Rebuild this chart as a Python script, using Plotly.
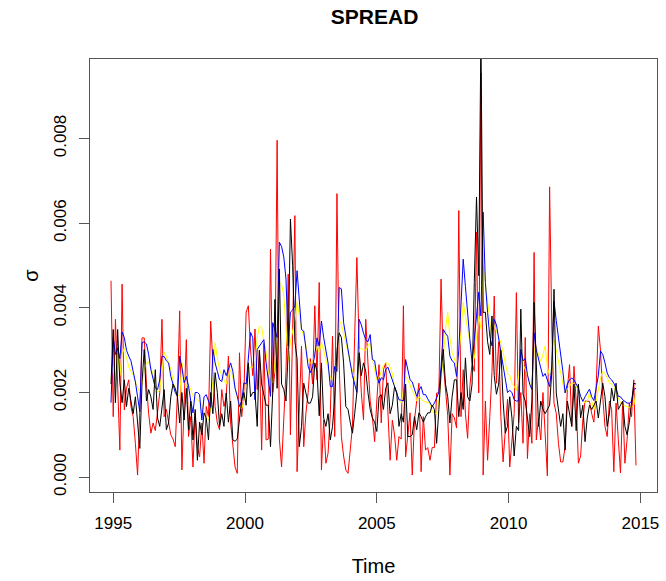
import plotly.graph_objects as go

# ---- data (units of 0.001), monthly-ish samples Dec 1994 .. late 2014 ----
red = [4.64, 1.43, 3.73, 2.0, 0.64, 4.56, 1.59, 2.1, 2.3, 1.67,
       1.43, 0.8, 0.05, 1.6, 3.29, 3.29, 2.2, 1.5, 1.04, 1.28,
       1.1, 1.52, 2.0, 3.73, 1.43, 1.6, 1.28, 1.0, 0.9, 0.72,
       2.0, 3.93, 0.17, 1.6, 3.25, 0.96, 1.43, 0.24, 1.52, 0.72,
       0.48, 1.28, 0.33, 1.67, 1.43, 3.69, 2.7, 1.67, 1.28, 1.12,
       2.07, 1.67, 1.9, 2.86, 1.28, 0.72, 0.24, 0.09, 2.94, 1.43,
       2.0, 3.9, 4.05, 3.0, 2.4, 3.5, 2.07, 3.0, 0.64, 3.18,
       0.88, 0.9, 5.39, 2.0, 2.5, 7.96, 0.9, 0.24, 1.35, 2.5,
       4.8, 1.0, 3.5, 6.18, 0.13, 1.5, 3.1, 0.72, 1.52, 2.0,
       2.8, 2.2, 4.05, 2.3, 4.6, 0.17, 1.35, 0.33, 0.57, 1.5,
       3.33, 0.96, 6.7, 2.7, 0.96, 0.5, 0.17, 0.09, 0.6, 1.2,
       3.33, 5.19, 3.1, 2.0, 1.35, 3.73, 2.7, 1.8, 1.43, 0.84,
       1.8, 2.66, 1.28, 2.54, 2.7, 1.6, 0.4, 1.35, 1.0, 0.4,
       0.96, 0.9, 4.05, 0.48, 1.0, 1.52, 0.05, 1.35, 1.8, 2.22,
       0.13, 1.43, 0.64, 0.7, 0.4, 0.7, 0.7, 1.99, 1.99, 4.68,
       2.7, 2.0, 1.45, 0.05, 1.5, 1.4, 1.16, 6.3, 1.43, 2.54,
       1.5, 0.92, 2.14, 2.7, 2.5, 5.79, 1.99, 9.55, 0.05, 1.8,
       0.4, 1.43, 2.5, 4.28, 2.22, 3.2, 1.43, 0.36, 1.0, 1.84,
       0.24, 0.8, 1.5, 4.36, 1.28, 2.0, 0.8, 3.3, 0.44, 1.5,
       0.8, 5.31, 0.88, 1.4, 0.88, 2.0, 1.0, 0.03, 6.86, 3.5,
       1.75, 1.51, 0.8, 0.36, 0.36, 0.72, 2.07, 2.66, 1.2, 2.62,
       1.8, 0.33, 0.5, 1.35, 1.8, 1.8, 1.79, 1.5, 1.3, 2.1,
       3.57, 2.98, 1.9, 1.2, 0.96, 1.8, 1.6, 0.13, 1.75, 0.9,
       0.1, 1.8, 0.33, 0.9, 1.75, 1.43, 2.3, 0.28]

black = [2.2, 3.49, 1.76, 3.49, 2.23, 1.76, 2.3, 1.67, 2.1, 1.8,
         1.5, 1.9, 1.35, 0.68, 2.23, 3.02, 1.8, 2.07, 1.9, 1.6,
         2.54, 1.4, 1.2, 1.6, 2.07, 1.12, 1.28, 1.9, 2.2, 2.1,
         1.9, 1.28, 2.0, 1.35, 2.1, 1.12, 1.8, 0.88, 1.6, 0.4,
         1.3, 1.0, 1.52, 1.4, 0.88, 2.0, 1.5, 2.47, 2.0, 1.2,
         1.5, 1.2, 1.99, 1.3, 1.8, 0.88, 0.85, 0.9, 1.43, 1.83,
         2.0, 1.7, 2.7, 1.9, 2.0, 2.0, 1.2, 3.0, 2.2, 1.9,
         1.7, 1.7, 0.72, 2.0, 4.2, 2.1, 4.92, 2.2, 2.07, 1.8,
         3.0, 6.1, 5.0, 3.2, 2.8, 0.72, 1.2, 2.22, 2.0, 1.75,
         1.75, 1.9, 2.7, 2.5, 1.45, 2.7, 1.4, 1.2, 1.5, 0.88,
         1.2, 1.9, 3.0, 3.41, 3.3, 2.7, 1.67, 1.6, 1.3, 1.04,
         1.5, 2.0, 2.94, 2.4, 2.7, 2.5, 2.0, 1.6, 1.4, 1.3,
         1.08, 1.9, 1.95, 1.6, 2.1, 2.23, 1.5, 1.7, 2.14, 2.0,
         1.2, 1.5, 1.3, 2.2, 0.96, 0.96, 1.0, 1.43, 1.12, 1.52,
         1.43, 1.3, 1.43, 1.52, 1.52, 1.7, 1.6, 0.8, 1.6, 2.46,
         3.02, 2.2, 1.9, 1.28, 1.9, 2.3, 2.3, 1.43, 2.0, 1.6,
         2.82, 1.9, 1.8, 2.2, 4.6, 6.62, 4.76, 10.5, 3.89, 3.9,
         3.2, 2.9, 3.81, 2.4, 1.96, 2.2, 3.0, 1.8, 1.04, 1.2,
         1.9, 1.4, 0.5, 1.2, 1.1, 3.97, 1.96, 1.8, 1.4, 0.96,
         1.8, 4.13, 2.7, 1.2, 1.8, 1.6, 1.5, 1.6, 1.7, 2.5,
         4.44, 1.99, 1.6, 1.2, 1.5, 0.64, 1.8, 1.5, 1.2, 2.2,
         1.1, 2.2, 1.4, 1.7, 0.84, 1.4, 1.7, 1.6, 1.7, 1.8,
         1.4, 1.8, 2.22, 1.9, 1.2, 1.5, 2.1, 1.8, 2.22, 1.6,
         1.7, 1.8, 1.2, 1.0, 1.3, 1.8, 2.22, 2.2]

yellow = [2.3,
          2.7, 2.3, 3.0, 2.4, 2.9, 3.05, 2.8, 2.6, 2.5, 2.42, 2.25, 2.1,
          2.0, 2.2, 2.54, 2.7, 2.72, 2.6, 2.4, 2.15, 2.0, 2.05, 2.5, 2.95,
          2.85, 2.7, 2.55, 2.3, 2.0, 1.95, 1.91, 2.7, 2.35, 2.14, 2.2, 2.07,
          1.91, 1.87, 1.83, 1.8, 1.74, 1.5, 1.4, 1.35, 1.65, 2.3, 3.18, 2.8,
          2.54, 2.4, 2.3, 2.2, 2.4, 2.54, 2.35, 2.1, 1.9, 1.67, 1.62, 1.8,
          2.2, 2.54, 2.6, 2.6, 2.65, 3.3, 3.57, 3.54, 3.2, 2.95, 2.5, 2.3,
          2.23, 2.8, 3.18, 4.6, 4.55, 4.3, 3.6, 2.75, 3.2, 3.42, 3.7, 4.13,
          3.8, 3.5, 3.33, 3.1, 2.75, 2.7, 2.7, 2.9, 3.1, 2.95, 3.18, 3.0,
          2.8, 2.6, 2.35, 2.3, 2.5, 2.7, 3.73, 3.6, 3.4, 3.2, 2.95, 2.7,
          2.5, 2.3, 2.14, 3.0, 3.05, 3.0, 3.0, 3.1, 3.18, 2.8, 2.5, 2.3,
          2.35, 2.5, 2.65, 2.7, 2.7, 2.6, 2.45, 2.14, 2.0, 1.83, 1.75, 2.1,
          2.38, 2.3, 2.15, 2.05, 1.95, 1.8, 1.9, 1.85, 1.8, 1.78, 1.77, 1.74,
          1.55, 1.5, 1.5, 1.8, 2.3, 2.8, 3.5, 3.9, 3.3, 2.94, 2.8, 2.62,
          2.9, 3.4, 4.13, 3.75, 3.49, 3.2, 2.85, 2.8, 3.4, 3.81, 3.5, 5.0,
          4.6, 4.13, 3.6, 3.28, 3.6, 3.45, 3.3, 3.18, 2.95, 2.65, 2.45, 2.4,
          2.22, 2.15, 2.05, 2.4, 2.78, 2.65, 2.55, 2.4, 2.25, 2.07, 3.0, 3.1,
          2.9, 2.74, 2.9, 3.1, 2.6, 2.4, 2.5, 3.25, 3.0, 2.7, 2.5, 2.2,
          1.99, 2.1, 2.15, 2.23, 2.2, 2.15, 2.05, 1.9, 1.83, 1.75, 1.8, 2.0,
          1.8, 1.59, 1.8, 2.1, 2.35, 2.5, 2.45, 2.35, 2.22, 2.2, 2.15, 2.0,
          1.85, 1.75, 1.7, 1.68, 1.67, 1.65, 1.65, 1.7, 1.99]

blue = [1.76,
        3.3, 2.9, 3.05, 2.8, 3.43, 3.3, 3.0, 2.86, 2.75, 2.5, 2.25, 1.9,
        1.55, 3.18, 3.2, 3.15, 2.9, 2.54, 2.3, 2.11, 2.07, 2.3, 2.86, 2.85,
        2.75, 2.7, 2.38, 2.2, 2.0, 1.91, 2.86, 2.6, 2.23, 2.38, 2.15, 1.8,
        1.52, 2.0, 2.0, 1.95, 1.35, 1.9, 1.95, 1.8, 1.65, 3.02, 2.7, 2.5,
        2.3, 2.26, 2.54, 2.4, 2.55, 2.7, 2.5, 2.1, 1.91, 1.67, 1.8, 2.23,
        2.2, 2.78, 3.42, 3.3, 1.83, 3.02, 3.1, 3.2, 3.25, 2.7, 2.3, 1.91,
        3.65, 3.45, 3.3, 5.55, 5.45, 5.2, 4.68, 3.1, 3.9, 3.95, 4.05, 4.88,
        4.2, 3.49, 3.45, 3.02, 2.62, 2.47, 2.6, 2.9, 3.29, 3.1, 3.69, 3.3,
        3.0, 2.7, 2.14, 2.14, 2.62, 2.5, 4.48, 4.45, 3.65, 3.3, 3.0, 2.7,
        2.4, 2.23, 2.0, 3.73, 3.6, 3.4, 3.25, 3.2, 3.37, 2.78, 2.75, 2.4,
        2.22, 2.35, 2.3, 2.54, 2.6, 2.45, 2.3, 2.14, 1.95, 1.83, 1.82, 1.8,
        2.78, 2.55, 2.3, 2.25, 2.1, 1.91, 2.05, 2.14, 1.95, 1.95, 1.85, 1.76,
        1.67, 1.75, 1.9, 2.0, 2.6, 3.49, 3.4, 3.33, 2.86, 2.75, 2.7, 2.38,
        3.0, 4.13, 5.15, 4.5, 3.81, 3.25, 2.7, 3.2, 3.81, 4.37, 3.81, 6.26,
        4.6, 3.89, 3.33, 3.1, 3.73, 3.6, 3.3, 3.0, 2.7, 2.38, 2.0, 2.05,
        2.0, 1.83, 1.8, 1.8, 3.02, 2.75, 2.8, 2.42, 2.2, 2.07, 3.41, 3.0,
        2.78, 2.6, 2.38, 2.45, 2.3, 2.14, 2.62, 4.16, 3.7, 3.33, 2.94, 2.5,
        1.99, 2.2, 2.3, 2.34, 2.3, 2.2, 2.1, 1.91, 1.79, 1.9, 2.0, 2.08,
        1.9, 1.81, 2.1, 2.4, 2.98, 2.9, 2.7, 2.46, 2.35, 2.3, 2.22, 2.1,
        1.91, 1.9, 1.83, 1.8, 1.75, 1.75, 1.79, 2.07, 2.1]

t_start, t_end = 1994.917, 2014.833
x_ticks = [1995, 2000, 2005, 2010, 2015]
y_ticks = [0.000, 0.002, 0.004, 0.006, 0.008]


def times(n):
    step = (t_end - t_start) / (n - 1)
    return [t_start + i * step for i in range(n)]


def scaled(v):
    return [a / 1000.0 for a in v]


fig = go.Figure()
for vals, col in [(red, "#FF0000"), (yellow, "#FFFF00"), (blue, "#0000FF"), (black, "#000000")]:
    fig.add_trace(go.Scatter(x=times(len(vals)), y=scaled(vals), mode="lines",
                             line=dict(color=col, width=1), showlegend=False,
                             hoverinfo="skip"))

font = "Liberation Sans, Arial, Helvetica, sans-serif"
fig.update_layout(
    width=666, height=581,
    margin=dict(l=90, r=7, t=59, b=89),
    paper_bgcolor="white", plot_bgcolor="white",
    font=dict(family=font, size=17, color="#000000"),
    title=dict(text="<b>SPREAD</b>", x=0.5625, xanchor="center",
               y=1 - 16.5 / 581, yanchor="middle", yref="container",
               font=dict(size=21, family=font, color="#000000")),
    showlegend=False,
)
fig.update_xaxes(range=[1994.12, 2015.63], tickvals=x_ticks,
                 ticktext=[str(v) for v in x_ticks],
                 showgrid=False, zeroline=False, showline=True, mirror=True,
                 linecolor="#555555", linewidth=1, ticks="outside", ticklen=10,
                 tickcolor="#555555", ticklabelstandoff=6,
                 title=dict(text="Time", standoff=26))
fig.update_yaxes(range=[-0.00035, 0.00988], tickvals=y_ticks,
                 ticktext=["%.3f" % v for v in y_ticks], tickangle=-90,
                 showgrid=False, zeroline=False, showline=True, mirror=True,
                 linecolor="#555555", linewidth=1, ticks="outside", ticklen=10,
                 tickcolor="#555555", ticklabelstandoff=6,
                 title=dict(text="σ", standoff=7))

fig.write_html("out.html")
